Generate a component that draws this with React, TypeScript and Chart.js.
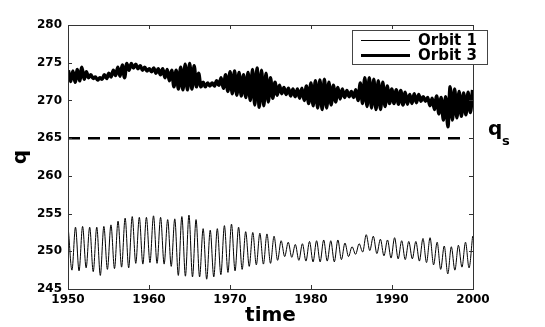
import React, { useEffect, useRef } from "react";
import { Chart, registerables } from "chart.js";

Chart.register(...registerables);

// ---- data ----
const xTickValues = [1950, 1960, 1970, 1980, 1990, 2000];
const yTickValues = [245, 250, 255, 260, 265, 270, 275, 280];
const timeStart = 1950.05;
const timeEnd = 1999.95;

const orbit1Peaks = [
  252.8, 253.2, 253.3, 253.2, 253.2, 253.3, 253.5, 254.0, 254.4, 254.6,
  254.5, 254.5, 254.7, 254.5, 254.2, 254.3, 254.6, 254.8, 254.2, 253.0,
  252.8, 253.0, 253.4, 253.6, 253.2, 252.6, 252.5, 252.4, 252.3, 252.0,
  251.4, 251.2, 250.9, 251.0, 251.3, 251.4, 251.5, 251.4, 251.5, 251.1,
  250.6, 251.0, 252.2, 252.0, 251.6, 251.5, 251.8, 251.4, 251.3, 251.3,
  251.7, 251.8, 251.2, 250.7, 250.6, 250.8, 251.2, 252.0,
];
const orbit1Troughs = [
  247.5, 247.4, 247.8, 247.3, 246.8, 247.6, 247.7, 247.9, 247.8, 248.4,
  248.3, 248.5, 248.4, 248.3, 248.0, 246.8, 246.7, 246.6, 246.6, 246.3,
  246.6, 246.9, 247.2, 247.4, 247.6, 248.0, 248.2, 248.3, 248.4, 248.8,
  249.3, 249.2, 248.8, 248.7, 248.6, 248.6, 248.7, 248.6, 248.9, 249.3,
  249.6, 249.9, 250.1, 249.7, 249.4, 249.1, 249.0, 248.9, 249.0, 248.7,
  248.5, 248.2, 247.6, 247.0, 247.5, 247.9, 247.8,
];
const orbit3Peaks = [
  274.0, 273.9, 274.1, 274.4, 273.8, 273.4, 273.1, 273.0, 273.4, 273.6,
  274.0, 274.4, 274.7, 274.9, 274.9, 274.8, 274.6, 274.4, 274.2, 274.3,
  274.2, 274.2, 274.1, 274.0, 274.0, 274.4, 274.8, 274.9, 274.6, 273.6,
  272.4, 272.3, 272.3, 272.6, 273.0, 273.4, 273.8, 273.9, 273.7, 273.4,
  273.7, 274.1, 274.3, 274.0, 273.6, 273.0, 272.4, 272.0, 271.7, 271.6,
  271.5, 271.5, 271.6, 271.9, 272.3, 272.6, 272.7, 272.8, 272.4, 272.0,
  271.7, 271.5, 271.3, 271.2, 271.4, 272.3, 273.0, 273.0, 272.8, 272.6,
  272.4, 271.9, 271.5, 271.4, 271.3, 271.1, 270.8, 270.9, 270.8, 270.5,
  270.4, 270.3, 270.6, 270.4, 270.5, 271.8, 271.5, 271.2, 271.0, 271.1,
  271.4,
];
const orbit3Troughs = [
  272.5, 272.4, 272.6, 272.8, 273.0, 272.9, 272.7, 272.8, 272.9, 273.1,
  273.3, 273.2, 273.0, 274.0, 274.3, 274.2, 274.0, 273.9, 273.8, 273.6,
  273.4, 273.0, 272.6, 271.8, 271.5, 271.4, 271.4, 271.5, 271.8, 271.8,
  271.8, 271.9, 271.9, 272.0, 271.6, 271.2, 270.9, 270.7, 270.6, 270.4,
  270.0, 269.4, 269.1, 269.3, 269.8, 270.3, 270.7, 270.9, 270.8, 270.6,
  270.5, 270.3, 270.0, 269.6, 269.3, 269.0, 268.8, 269.0, 269.4, 269.8,
  270.2, 270.4, 270.5, 270.4, 270.0, 269.6, 269.2, 269.0, 268.8, 268.8,
  269.2, 269.6, 269.6, 269.5, 269.4, 269.5, 269.6, 269.7, 269.9, 269.9,
  269.3, 268.8, 268.2, 267.4, 266.5, 267.4, 267.7, 267.9, 268.1, 268.4,
];
const qsTimes = [1950, 1999.3];
const qsValues = [265, 265];
const seriesNames = ["Orbit 1", "Orbit 3"];
const xTitle = "time";
const yTitle = "q";

function buildSeries(peaks: number[], troughs: number[]) {
  const period = (timeEnd - timeStart) / (peaks.length - 1);
  const pts: { x: number; y: number }[] = [];
  for (let k = 0; k < peaks.length; k++) {
    pts.push({ x: timeStart + k * period, y: peaks[k] });
    if (k < troughs.length) pts.push({ x: timeStart + (k + 0.5) * period, y: troughs[k] });
  }
  return pts;
}

const FONT = "DejaVu Sans";

const decorPlugin = {
  id: "decor",
  afterDraw(chart: any) {
    const { ctx, chartArea, scales } = chart;
    const { left, right, top, bottom } = chartArea;
    ctx.save();
    // frame
    ctx.strokeStyle = "#333";
    ctx.lineWidth = 1;
    ctx.strokeRect(Math.round(left) + 0.5, Math.round(top) + 0.5, Math.round(right - left), Math.round(bottom - top));
    // inward ticks
    const tl = 4;
    ctx.beginPath();
    xTickValues.forEach((v) => {
      const x = Math.round(scales.x.getPixelForValue(v)) + 0.5;
      ctx.moveTo(x, bottom);
      ctx.lineTo(x, bottom - tl);
      ctx.moveTo(x, top);
      ctx.lineTo(x, top + tl);
    });
    yTickValues.forEach((v) => {
      const y = Math.round(scales.y.getPixelForValue(v)) + 0.5;
      ctx.moveTo(left, y);
      ctx.lineTo(left + tl, y);
      ctx.moveTo(right, y);
      ctx.lineTo(right - tl, y);
    });
    ctx.stroke();

    // axis titles
    ctx.fillStyle = "#000";
    ctx.font = `bold 20px "${FONT}"`;
    ctx.textAlign = "center";
    ctx.textBaseline = "middle";
    ctx.fillText(xTitle, (left + right) / 2, 316);
    ctx.save();
    ctx.translate(21, (top + bottom) / 2);
    ctx.rotate(-Math.PI / 2);
    ctx.fillText(yTitle, 0, 0);
    ctx.restore();

    // q_s label
    ctx.textAlign = "left";
    ctx.textBaseline = "alphabetic";
    ctx.font = `bold 20px "${FONT}"`;
    ctx.fillText("q", 488, 135);
    ctx.font = `bold 13px "${FONT}"`;
    ctx.fillText("s", 502, 145);

    // legend
    const bx = 352, by = 30, bw = 135, bh = 34;
    ctx.fillStyle = "#fff";
    ctx.fillRect(bx, by, bw, bh);
    ctx.strokeStyle = "#444";
    ctx.lineWidth = 1;
    ctx.strokeRect(bx + 0.5, by + 0.5, bw, bh);
    const rows = [
      { y: 40, w: 1 },
      { y: 55, w: 3 },
    ];
    rows.forEach((r, i) => {
      ctx.strokeStyle = "#000";
      ctx.lineWidth = r.w;
      ctx.beginPath();
      ctx.moveTo(361, r.y + 0.5);
      ctx.lineTo(410, r.y + 0.5);
      ctx.stroke();
      ctx.fillStyle = "#000";
      ctx.font = `bold 15px "${FONT}"`;
      ctx.textAlign = "left";
      ctx.textBaseline = "middle";
      ctx.fillText(seriesNames[i], 418, r.y + 1);
    });
    ctx.restore();
  },
};

export default function App() {
  const ref = useRef<HTMLCanvasElement | null>(null);
  useEffect(() => {
    document.body.style.margin = "0";
    const canvas = ref.current;
    if (!canvas) return;
    const chart = new Chart(canvas, {
      type: "line",
      data: {
        datasets: [
          {
            label: seriesNames[0],
            data: buildSeries(orbit1Peaks, orbit1Troughs),
            borderColor: "#000",
            borderWidth: 1,
            pointRadius: 0,
            cubicInterpolationMode: "monotone",
            fill: false,
          },
          {
            label: seriesNames[1],
            data: buildSeries(orbit3Peaks, orbit3Troughs),
            borderColor: "#000",
            borderWidth: 3.5,
            pointRadius: 0,
            cubicInterpolationMode: "monotone",
            fill: false,
          },
          {
            label: "qs",
            data: qsTimes.map((t, i) => ({ x: t, y: qsValues[i] })),
            borderColor: "#000",
            borderWidth: 2.5,
            borderDash: [12, 8],
            pointRadius: 0,
            fill: false,
          },
        ],
      },
      options: {
        animation: false,
        responsive: false,
        maintainAspectRatio: false,
        layout: { padding: { top: 25, right: 72, left: 0, bottom: 0 } },
        plugins: { legend: { display: false }, tooltip: { enabled: false } },
        scales: {
          x: {
            type: "linear",
            min: 1950,
            max: 2000,
            afterFit: (s: any) => {
              s.height = 38;
            },
            afterBuildTicks: (s: any) => {
              s.ticks = xTickValues.map((v) => ({ value: v }));
            },
            grid: { display: false, drawTicks: false },
            border: { display: false },
            ticks: {
              color: "#000",
              padding: 4,
              maxRotation: 0,
              font: { family: FONT, weight: "bold", size: 12 },
              callback: (v: any) => String(v),
            },
          },
          y: {
            type: "linear",
            min: 245,
            max: 280,
            afterFit: (s: any) => {
              s.width = 68;
            },
            afterBuildTicks: (s: any) => {
              s.ticks = yTickValues.map((v) => ({ value: v }));
            },
            grid: { display: false, drawTicks: false },
            border: { display: false },
            ticks: {
              color: "#000",
              padding: 6,
              font: { family: FONT, weight: "bold", size: 12 },
              callback: (v: any) => String(v),
            },
          },
        },
      },
      plugins: [decorPlugin],
    } as any);
    return () => chart.destroy();
  }, []);
  return (
    <div style={{ width: 545, height: 327, background: "#fff" }}>
      <canvas ref={ref} width={545} height={327} />
    </div>
  );
}
